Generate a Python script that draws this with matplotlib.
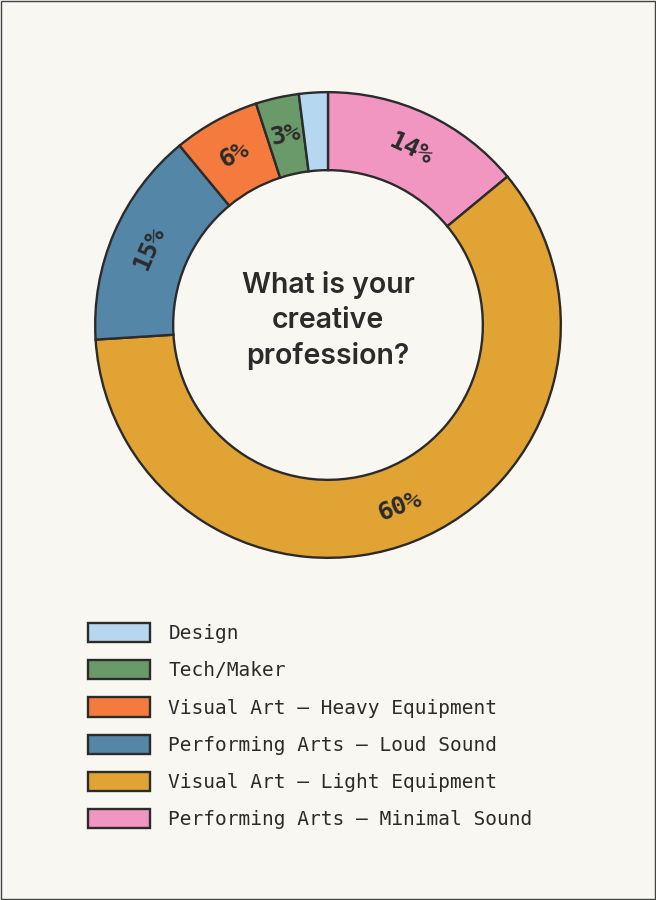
import matplotlib.pyplot as plt
from matplotlib.patches import Patch, Rectangle
import numpy as np

# survey answers, drawn clockwise from 12 o'clock
categories = ['Performing Arts – Minimal Sound', 'Visual Art – Light Equipment',
              'Performing Arts – Loud Sound', 'Visual Art – Heavy Equipment',
              'Tech/Maker', 'Design']
shares = [14, 60, 15, 6, 3, 2]
colors = ['#f196c1', '#e1a333', '#5486a8', '#f47b3d', '#6a9a6a', '#b6d7f0']
legend_order = ['Design', 'Tech/Maker', 'Visual Art – Heavy Equipment',
                'Performing Arts – Loud Sound', 'Visual Art – Light Equipment',
                'Performing Arts – Minimal Sound']

bg = '#f8f7f1'
ink = '#2b2b2b'
mono = 'DejaVu Sans Mono'

fig = plt.figure(figsize=(6.56, 9), dpi=100, facecolor=bg)
fig.patches.append(Rectangle((0.001, 0.001), 0.998, 0.998, transform=fig.transFigure,
                             fill=False, edgecolor='#444444', linewidth=1))

ax = fig.add_axes([94 / 656, 341 / 900, 468 / 656, 468 / 900])
ax.set_facecolor(bg)
wedges, _ = ax.pie(shares, colors=colors, startangle=90, counterclock=False,
                   radius=1, wedgeprops=dict(width=0.335, edgecolor=ink, linewidth=1.7))
ax.set_xlim(-1.005, 1.005)
ax.set_ylim(-1.005, 1.005)
ax.set_aspect('equal')

# percentage labels, turned to follow the ring
for w, v in zip(wedges, shares):
    if v < 3:
        continue
    mid = (w.theta1 + w.theta2) / 2
    r = 0.835
    x, y = r * np.cos(np.radians(mid)), r * np.sin(np.radians(mid))
    rot = mid - 90 if np.sin(np.radians(mid)) >= 0 else mid + 90
    ax.text(x, y, f'{v}%', ha='center', va='center', rotation=rot,
            rotation_mode='anchor', fontsize=18, family=mono, fontweight='bold',
            color=ink)

ax.text(0, 0.02, 'What is your\ncreative\nprofession?', ha='center', va='center',
        fontsize=20.5, family='Inter', fontweight='semibold', color=ink, linespacing=1.36)

lookup = dict(zip(categories, colors))
handles = [Patch(facecolor=lookup[c], edgecolor=ink, linewidth=1.7, label=c)
           for c in legend_order]
fig.legend(handles=handles, loc='upper left', bbox_to_anchor=(88 / 656, 1 - 623 / 900),
           frameon=False, borderaxespad=0, borderpad=0, handlelength=3.2,
           handleheight=1.13, handletextpad=0.93, labelspacing=0.88,
           prop=dict(family=mono, size=14), labelcolor=ink)

fig.savefig('out.png', dpi=100, facecolor=bg)
